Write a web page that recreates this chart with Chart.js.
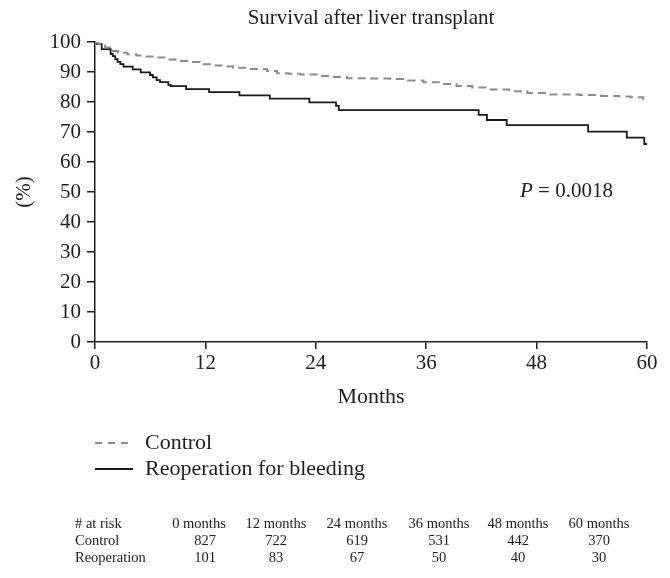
<!DOCTYPE html>
<html><head><meta charset="utf-8">
<script src="https://cdn.jsdelivr.net/npm/chart.js@4.4.1/dist/chart.umd.min.js"></script>
<style>html,body{margin:0;padding:0;background:#fff;}#wrap{width:670px;height:578px;position:relative;}</style>
</head><body><div id="wrap"><canvas id="c" width="670" height="578"></canvas></div>
<script>
// Kaplan-Meier: Reoperation for bleeding (month of step, survival % after step)
const reopMonths   = [0, 0.2, 0.73, 1.7, 1.93, 2.2, 2.45, 2.75, 3.1, 4.1, 4.97, 5.98, 6.3, 6.7, 7.07, 7.97, 8.23, 9.9, 12.4, 15.7, 19.0, 23.3, 26.2, 26.5, 41.7, 42.6, 44.75, 53.6, 57.8, 59.7, 60];
const reopSurvival = [100, 99.3, 97.6, 96.0, 95.3, 94.3, 93.4, 92.6, 91.8, 90.9, 89.9, 89.0, 88.2, 87.3, 86.6, 85.7, 85.3, 84.3, 83.3, 82.2, 81.1, 79.9, 78.7, 77.3, 75.7, 74.0, 72.3, 70.1, 68.1, 66.0, 66.0];
// Kaplan-Meier: Control
const controlMonths   = [0, 0.3, 0.7, 1.1, 1.6, 2.5, 3.5, 4.5, 5.5, 6.7, 8, 9, 10.3, 11.4, 12.5, 14, 15, 16.5, 18.7, 19.8, 21, 22.3, 24.1, 25.5, 27.4, 30, 32.1, 34, 35.7, 37.5, 39.3, 41, 42.6, 45, 47, 49.5, 52.7, 55, 57, 58.2, 59.6, 60];
const controlSurvival = [100, 99.4, 98.8, 98.2, 97.0, 96.4, 95.9, 95.5, 95.2, 94.8, 94.2, 93.7, 93.3, 92.6, 92.2, 91.8, 91.4, 91.0, 90.3, 89.6, 89.4, 89.2, 88.7, 88.3, 87.9, 87.8, 87.7, 87.2, 86.6, 86.0, 85.3, 84.8, 84.2, 83.6, 83.0, 82.5, 82.3, 82.0, 81.8, 81.6, 81.0, 80.8];
const xTickValues = [0, 12, 24, 36, 48, 60];
const seriesNames = ['Control', 'Reoperation for bleeding'];
const riskHeaders = ['0 months', '12 months', '24 months', '36 months', '48 months', '60 months'];
const riskRowNames = ['Control', 'Reoperation'];
const controlAtRisk = [827, 722, 619, 531, 442, 370];
const reopAtRisk = [101, 83, 67, 50, 40, 30];
const pValueText = '0.0018';

const FONT = '"Liberation Serif", "DejaVu Serif", serif';
const INK = '#1e1e1e';

const extras = {
  id: 'extras',
  afterDraw(chart) {
    const ctx = chart.ctx;
    const area = chart.chartArea;
    ctx.save();
    ctx.fillStyle = INK;
    // title
    ctx.font = '21px ' + FONT;
    ctx.textAlign = 'center';
    ctx.textBaseline = 'middle';
    ctx.fillText('Survival after liver transplant', (area.left + area.right) / 2, 18);
    // P value
    ctx.textAlign = 'left';
    ctx.font = 'italic 21px ' + FONT;
    let px = 520, py = 191;
    ctx.fillText('P', px, py);
    px += ctx.measureText('P').width;
    ctx.font = '21px ' + FONT;
    ctx.fillText(' = ' + pValueText, px, py);
    // legend
    const ds = chart.data.datasets;
    const legY = [443, 469];
    for (let i = 0; i < 2; i++) {
      ctx.beginPath();
      ctx.strokeStyle = ds[i].borderColor;
      ctx.lineWidth = ds[i].borderWidth;
      ctx.setLineDash(i === 0 ? [7, 6] : []);
      ctx.moveTo(95, legY[i]);
      ctx.lineTo(133, legY[i]);
      ctx.stroke();
      ctx.setLineDash([]);
      ctx.fillStyle = INK;
      ctx.font = '22px ' + FONT;
      ctx.textAlign = 'left';
      ctx.fillText(seriesNames[i], 145, legY[i]);
    }
    // at-risk table
    ctx.font = '14.5px ' + FONT;
    const rowY = [524, 541, 558];
    const colX = [199, 276, 357, 439, 518, 599];
    ctx.textAlign = 'left';
    ctx.fillText('# at risk', 75, rowY[0]);
    ctx.fillText(riskRowNames[0], 75, rowY[1]);
    ctx.fillText(riskRowNames[1], 75, rowY[2]);
    ctx.textAlign = 'center';
    for (let j = 0; j < riskHeaders.length; j++) {
      ctx.fillText(riskHeaders[j], colX[j], rowY[0]);
      ctx.fillText(String(controlAtRisk[j]), colX[j] + (j === 0 ? 6 : 0), rowY[1]);
      ctx.fillText(String(reopAtRisk[j]), colX[j] + (j === 0 ? 6 : 0), rowY[2]);
    }
    ctx.restore();
  }
};

new Chart(document.getElementById('c'), {
  type: 'line',
  data: {
    datasets: [
      {
        label: seriesNames[0],
        data: controlMonths.map((m, i) => ({x: m, y: controlSurvival[i]})),
        borderColor: '#8c8c8c', borderWidth: 2, borderDash: [8, 5],
        stepped: true, pointRadius: 0, fill: false
      },
      {
        label: seriesNames[1],
        data: reopMonths.map((m, i) => ({x: m, y: reopSurvival[i]})),
        borderColor: '#1a1a1a', borderWidth: 1.8,
        stepped: true, pointRadius: 0, fill: false
      }
    ]
  },
  options: {
    responsive: false, animation: false, devicePixelRatio: 1,
    layout: {padding: {left: 0, right: 23, top: 42, bottom: 166}},
    plugins: {legend: {display: false}, title: {display: false}, tooltip: {enabled: false}},
    scales: {
      x: {
        type: 'linear', min: 0, max: 60,
        afterBuildTicks: (s) => { s.ticks = xTickValues.map(v => ({value: v})); },
        afterFit: (s) => { s.height = 70; },
        ticks: {font: {family: FONT, size: 21}, color: INK, padding: 2, maxRotation: 0},
        grid: {drawOnChartArea: false, drawTicks: true, tickLength: 7, color: INK, lineWidth: 1.5},
        border: {display: true, color: INK, width: 1.5},
        title: {display: true, text: 'Months', font: {family: FONT, size: 22}, color: INK, padding: {top: 0, bottom: 2}}
      },
      y: {
        min: 0, max: 100,
        ticks: {stepSize: 10, font: {family: FONT, size: 21}, color: INK, padding: 6},
        afterFit: (s) => { s.width = 95; },
        grid: {drawOnChartArea: false, drawTicks: true, tickLength: 8, color: INK, lineWidth: 1.5},
        border: {display: true, color: INK, width: 1.5},
        title: {display: true, text: '(%)', font: {family: FONT, size: 21}, color: INK, padding: {top: 12, bottom: 0}}
      }
    }
  },
  plugins: [extras]
});
</script></body></html>
